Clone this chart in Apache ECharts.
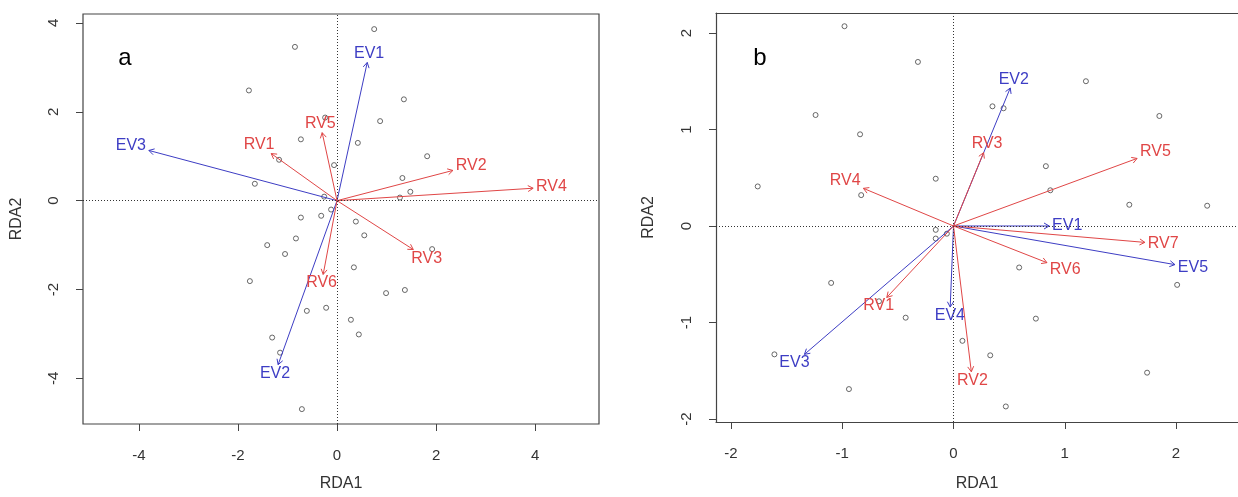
<!DOCTYPE html>
<html><head><meta charset="utf-8">
<script src="https://cdn.jsdelivr.net/npm/echarts@6/dist/echarts.min.js"></script>
<style>html,body{margin:0;padding:0;background:#fff}#c{width:1238px;height:497px}</style>
</head><body><div id="c"></div>
<script>
// ---------- Panel a data ----------
const sitesAx = [-0.85,-1.78,-0.73,-1.17,-1.66,-0.73,-0.83,-1.41,0.75,1.35,0.87,-0.24,0.42,1.82,-0.06,1.32,1.48,1.27,-0.26,-0.12,-0.32,0.38,0.55,1.92,-1.05,-1.76,-0.61,-1.31,-1.15,-0.71,0.34,0.99,1.37,-0.22,0.28,0.44];
const sitesAy = [3.46,2.48,1.38,0.92,0.38,-0.38,-0.85,-1.00,3.86,2.28,1.79,1.87,1.30,1.00,0.80,0.51,0.20,0.07,0.09,-0.20,-0.34,-0.47,-0.78,-1.09,-1.20,-1.81,-2.48,-3.08,-3.42,-4.69,-1.50,-2.08,-2.01,-2.41,-2.68,-3.01];
const vecNamesA = ['EV1','EV2','EV3','RV1','RV2','RV3','RV4','RV5','RV6'];
const vecXA = [0.61,-1.19,-3.80,-1.33,2.34,1.54,3.96,-0.30,-0.28];
const vecYA = [3.11,-3.69,1.13,1.06,0.68,-1.10,0.28,1.53,-1.66];
const ticksAx = [-4,-2,0,2,4];
const ticksAy = [-4,-2,0,2,4];

// ---------- Panel b data ----------
const sitesBx = [-0.98,-0.32,-1.24,-0.84,-1.76,-0.83,1.19,1.85,0.35,0.45,-0.16,0.83,0.87,1.58,2.28,-0.16,-0.16,-0.06,0.59,2.01,0.74,0.08,0.33,1.74,0.47,-1.10,-0.67,-0.43,-1.61,-0.94];
const sitesBy = [2.07,1.70,1.15,0.95,0.41,0.32,1.50,1.14,1.24,1.22,0.49,0.62,0.37,0.22,0.21,-0.04,-0.13,-0.08,-0.43,-0.61,-0.96,-1.19,-1.34,-1.52,-1.87,-0.59,-0.78,-0.95,-1.33,-1.69];
const vecNamesB = ['EV1','EV2','EV3','EV4','EV5','RV1','RV2','RV3','RV4','RV5','RV6','RV7'];
const vecXB = [0.86,0.51,-1.34,-0.03,1.99,-0.60,0.16,0.27,-0.81,1.65,0.84,1.72];
const vecYB = [0.00,1.43,-1.33,-0.84,-0.40,-0.74,-1.51,0.76,0.39,0.70,-0.38,-0.17];
const ticksBx = [-2,-1,0,1,2];
const ticksBy = [-2,-1,0,1,2];

const BLUE = '#3d3dc4';
const RED = '#e04646';
const BOX = '#444';
const FF = '"Liberation Sans", Arial, sans-serif';
const LFS = 16;
const FONT = LFS + 'px ' + FF;
const mctx = document.createElement('canvas').getContext('2d');

function makeRender(names, xs, ys) {
  return function (params, api) {
    const i = params.dataIndex;
    const o = api.coord([0, 0]);
    const t = api.coord([xs[i], ys[i]]);
    const col = names[i].indexOf('EV') === 0 ? BLUE : RED;
    const dx = t[0] - o[0], dy = t[1] - o[1];
    const len = Math.hypot(dx, dy);
    const bx = -dx / len, by = -dy / len;
    const ah = 6, c = Math.cos(Math.PI / 6), s = Math.sin(Math.PI / 6);
    const p1 = [t[0] + ah * (bx * c - by * s), t[1] + ah * (bx * s + by * c)];
    const p2 = [t[0] + ah * (bx * c + by * s), t[1] + ah * (-bx * s + by * c)];
    mctx.font = FONT;
    const w = mctx.measureText(names[i]).width;
    const h = 0.72 * LFS;
    let offx = Math.sign(dx) * (w / 2 + h / 4);
    let offy = Math.sign(dy) * 0.75 * h;
    const b = dy / dx;
    const move = offy / b;
    if (isFinite(move) && Math.abs(move) <= Math.abs(offx)) offx = move;
    else offy = b * offx;
    return {
      type: 'group',
      children: [
        { type: 'line', shape: { x1: o[0], y1: o[1], x2: t[0], y2: t[1] }, style: { stroke: col, lineWidth: 1 } },
        { type: 'polyline', shape: { points: [p1, t, p2] }, style: { stroke: col, fill: null, lineWidth: 1 } },
        { type: 'text', x: t[0] + offx, y: t[1] + offy, style: { text: names[i], fill: col, font: FONT, align: 'center', verticalAlign: 'middle' } }
      ]
    };
  };
}

function xAxisCfg(gi, min, max, ticks, gap, showLine) {
  return {
    gridIndex: gi, type: 'value', min: min, max: max, position: 'bottom',
    axisLine: { show: showLine, onZero: false, lineStyle: { color: BOX, width: 1.2 } },
    splitLine: { show: false },
    axisTick: { show: true, length: 7, customValues: ticks, lineStyle: { color: BOX, width: 1 } },
    axisLabel: { customValues: ticks, margin: 24, fontSize: 15, color: '#333', fontFamily: FF },
    name: 'RDA1', nameLocation: 'middle', nameGap: gap,
    nameTextStyle: { fontSize: 16, color: '#333', fontFamily: FF }
  };
}
function yAxisCfg(gi, min, max, ticks, gap, showLine) {
  return {
    gridIndex: gi, type: 'value', min: min, max: max, position: 'left',
    axisLine: { show: showLine, onZero: false, lineStyle: { color: BOX, width: 1.2 } },
    splitLine: { show: false },
    axisTick: { show: true, length: 7, customValues: ticks, lineStyle: { color: BOX, width: 1 } },
    axisLabel: { customValues: ticks, margin: 22, rotate: 90, fontSize: 15, color: '#333', fontFamily: FF },
    name: 'RDA2', nameLocation: 'middle', nameGap: gap,
    nameTextStyle: { fontSize: 16, color: '#333', fontFamily: FF }
  };
}
// top border line for panel b (no right border visible: it lies beyond the image)
const topLineB = {
  gridIndex: 1, type: 'value', min: -2.135, max: 2.557, position: 'top',
  axisLine: { show: true, onZero: false, lineStyle: { color: BOX, width: 1.2 } },
  axisTick: { show: false }, axisLabel: { show: false }, splitLine: { show: false }
};
const zeroLines = {
  silent: true, symbol: 'none', animation: false,
  label: { show: false },
  lineStyle: { type: [1, 2], color: '#333', width: 1 },
  data: [{ xAxis: 0 }, { yAxis: 0 }]
};
function scatterCfg(gi, xs, ys) {
  return {
    type: 'scatter', xAxisIndex: gi, yAxisIndex: gi,
    data: xs.map((x, i) => [x, ys[i]]),
    symbol: 'circle', symbolSize: 5,
    itemStyle: { color: 'rgba(255,255,255,0)', borderColor: '#444', borderWidth: 1 },
    markLine: zeroLines, z: 2
  };
}
function arrowCfg(gi, names, xs, ys) {
  return {
    type: 'custom', xAxisIndex: gi, yAxisIndex: gi,
    data: xs.map((x, i) => [x, ys[i]]),
    encode: { x: 0, y: 1 },
    renderItem: makeRender(names, xs, ys), z: 3
  };
}

const chart = echarts.init(document.getElementById('c'), null, { renderer: 'canvas' });
chart.setOption({
  animation: false,
  backgroundColor: '#fff',
  grid: [
    { left: 83, top: 14, width: 516, height: 414, show: true, borderColor: BOX, borderWidth: 1.2, backgroundColor: 'transparent' },
    { left: 716, top: 13, width: 522, height: 410, show: false }
  ],
  xAxis: [xAxisCfg(0, -5.13, 5.29, ticksAx, 52, false), xAxisCfg(1, -2.135, 2.557, ticksBx, 54, true), topLineB],
  yAxis: [yAxisCfg(0, -5.025, 4.20, ticksAy, 58, false), yAxisCfg(1, -2.031, 2.207, ticksBy, 59, true)],
  graphic: [
    { type: 'text', x: 125, y: 58, style: { text: 'a', font: '24px ' + FF, fill: '#000', align: 'center', verticalAlign: 'middle' } },
    { type: 'text', x: 760, y: 58, style: { text: 'b', font: '24px ' + FF, fill: '#000', align: 'center', verticalAlign: 'middle' } }
  ],
  series: [
    scatterCfg(0, sitesAx, sitesAy),
    arrowCfg(0, vecNamesA, vecXA, vecYA),
    scatterCfg(1, sitesBx, sitesBy),
    arrowCfg(1, vecNamesB, vecXB, vecYB)
  ]
});
</script>
</body></html>
